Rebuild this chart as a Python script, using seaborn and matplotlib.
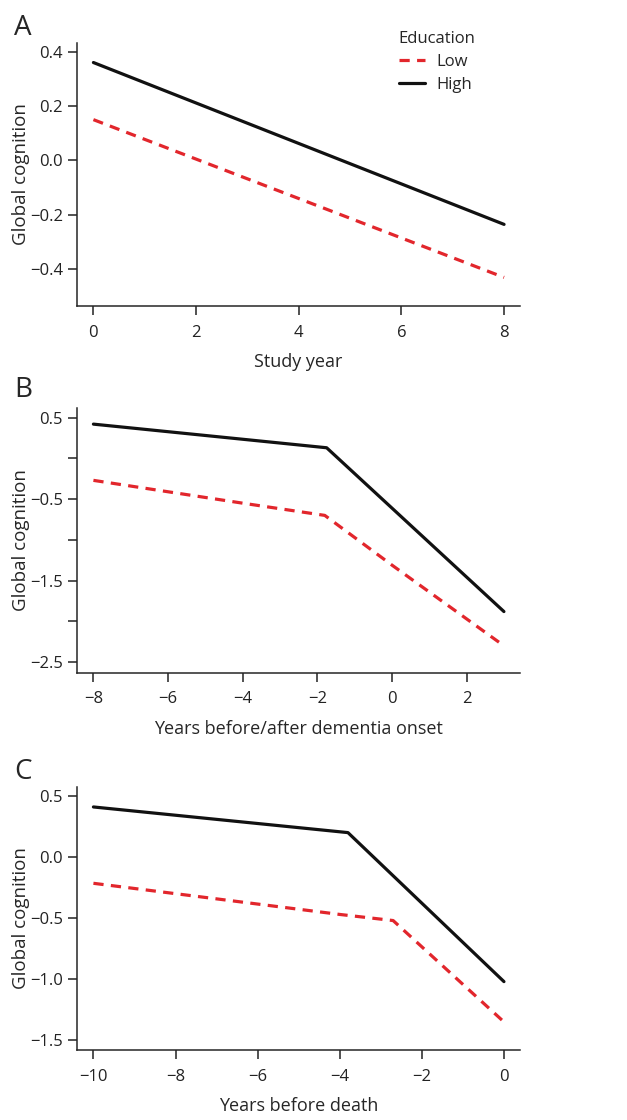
import pandas as pd
import matplotlib
matplotlib.use("Agg")
import matplotlib.pyplot as plt
import seaborn as sns

# ----------------------------------
# Daten
# ----------------------------------

gruppen = ["Low", "High"]

a_x_low = [0, 8]
a_y_low = [0.15, -0.43]
a_x_high = [0, 8]
a_y_high = [0.36, -0.235]

b_x_low = [-8, -4, -1.8, 0, 3]
b_y_low = [-0.27, -0.55, -0.70, -1.31, -2.30]
b_x_high = [-8, -1.75, 3]
b_y_high = [0.42, 0.13, -1.88]

c_x_low = [-10, -4, -2.7, 0]
c_y_low = [-0.215, -0.47, -0.52, -1.35]
c_x_high = [-10, -3.8, 0]
c_y_high = [0.41, 0.20, -1.02]

a_yticks = [0.4, 0.2, 0.0, -0.2, -0.4]
a_yticklabels = ["0.4", "0.2", "0.0", "\u22120.2", "\u22120.4"]
a_xticks = [0, 2, 4, 6, 8]

b_yticks = [0.5, 0.0, -0.5, -1.0, -1.5, -2.0, -2.5]
b_yticklabels = ["0.5", "", "\u22120.5", "", "\u22121.5", "", "\u22122.5"]
b_xticks = [-8, -6, -4, -2, 0, 2]

c_yticks = [0.5, 0.0, -0.5, -1.0, -1.5]
c_yticklabels = ["0.5", "0.0", "\u22120.5", "\u22121.0", "\u22121.5"]
c_xticks = [-10, -8, -6, -4, -2, 0]


def make_df(x_low, y_low, x_high, y_high):
    low = pd.DataFrame({"x": x_low, "y": y_low, "Education": "Low"})
    high = pd.DataFrame({"x": x_high, "y": y_high, "Education": "High"})
    return pd.concat([low, high], ignore_index=True)


# ----------------------------------
# Layout
# ----------------------------------

sns.set_style("ticks")
plt.rcParams["font.family"] = ["Open Sans", "DejaVu Sans"]
plt.rcParams["axes.linewidth"] = 1.1
plt.rcParams["xtick.major.width"] = 1.1
plt.rcParams["ytick.major.width"] = 1.1
plt.rcParams["xtick.major.size"] = 6.5
plt.rcParams["ytick.major.size"] = 6.5

fig = plt.figure(figsize=(6.27, 11.2), dpi=100)

panels = [
    # (label, label baseline px, df, xlim, ylim, xticks, yticks, yticklabels, xlabel, axes rect)
    ("A", 35, make_df(a_x_low, a_y_low, a_x_high, a_y_high), (-0.32, 8.31), (-0.535, 0.433),
     a_xticks, a_yticks, a_yticklabels, "Study year", [0.1228, 0.7268, 0.7065, 0.2351]),
    ("B", 397, make_df(b_x_low, b_y_low, b_x_high, b_y_high), (-8.44, 3.43), (-2.63, 0.615),
     b_xticks, b_yticks, b_yticklabels, "Years before/after dementia onset", [0.1228, 0.3994, 0.7065, 0.2361]),
    ("C", 779, make_df(c_x_low, c_y_low, c_x_high, c_y_high), (-10.4, 0.39), (-1.58, 0.576),
     c_xticks, c_yticks, c_yticklabels, "Years before death", [0.1228, 0.0625, 0.7065, 0.2351]),
]

palette = {"Low": "#e2262c", "High": "#111111"}
dashes = {"Low": (3.2, 2.3), "High": ""}

for i, (lbl, lbl_y, df, xlim, ylim, xticks, yticks, yticklabels, xlabel, rect) in enumerate(panels):
    ax = fig.add_axes(rect)
    sns.lineplot(data=df, x="x", y="y", hue="Education", style="Education",
                 hue_order=gruppen, style_order=gruppen, palette=palette,
                 dashes=dashes, linewidth=2.3, estimator=None, sort=False,
                 legend=(i == 0), ax=ax)
    ax.set_xlim(*xlim)
    ax.set_ylim(*ylim)
    ax.set_xticks(xticks)
    ax.set_xticklabels([str(t).replace("-", "\u2212") for t in xticks])
    ax.set_yticks(yticks)
    ax.set_yticklabels(yticklabels)
    ax.tick_params(labelsize=12, colors="#222222")
    ax.tick_params(axis="x", pad=7)
    ax.set_xlabel(xlabel, fontsize=13, labelpad=9)
    ax.set_ylabel("Global cognition", fontsize=13.5, labelpad=0)
    sns.despine(ax=ax)
    fig.text(0.022, 1 - lbl_y / 1120, lbl, fontsize=20, va="baseline", ha="left")

    if i == 0:
        leg = ax.legend(title="Education", loc="upper left", bbox_to_anchor=(0.70, 1.088),
                        frameon=False, fontsize=12, title_fontsize=12,
                        handlelength=1.6, handletextpad=0.65, borderpad=0.2,
                        labelspacing=0.4)
        leg._legend_box.align = "left"

fig.savefig("out.png", dpi=100)
